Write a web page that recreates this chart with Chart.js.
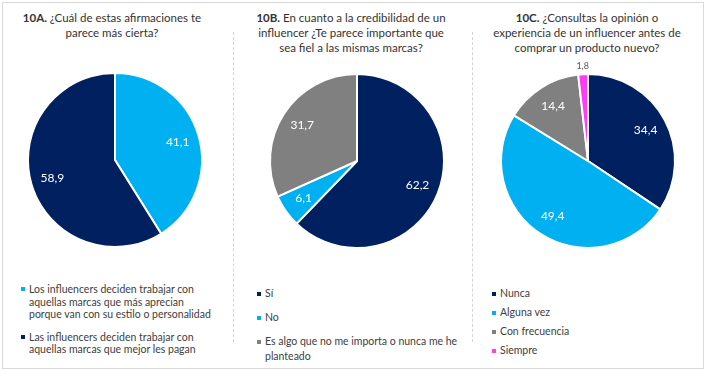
<!DOCTYPE html>
<html>
<head>
<meta charset="utf-8">
<script src="https://cdn.jsdelivr.net/npm/chart.js@4.4.1/dist/chart.umd.min.js"></script>
<style>
  body { margin: 0; background: #fff; font-family: Lato, "Open Sans", sans-serif; }
  #frame { position: absolute; left: 2px; top: 2px; width: 702px; height: 367px; box-sizing: border-box; border: 1px solid #d9d9d9; }
  .divider { position: absolute; top: 32px; height: 310px; border-left: 1px dashed #d4d4d4; }
  .title { position: absolute; top: 10px; width: 240px; margin-left: -120px; text-align: center; font-size: 11.5px; line-height: 15px; color: #333; }
  canvas { position: absolute; }
  .legend { position: absolute; font-size: 10.5px; color: #404040; }
  .legend .item { position: relative; }
  .legend .mark { position: absolute; width: 4px; height: 4px; }
</style>
</head>
<body>
<div id="frame"></div>
<div class="divider" style="left:233px"></div>
<div class="divider" style="left:472px"></div>

<div class="title" style="left:112px"><b>10A.</b> ¿Cuál de estas afirmaciones te<br>parece más cierta?</div>
<div class="title" style="left:351px"><b>10B.</b> En cuanto a la credibilidad de un<br>influencer ¿Te parece importante que<br>sea fiel a las mismas marcas?</div>
<div class="title" style="left:587px"><b>10C.</b> ¿Consultas la opinión o<br>experiencia de un influencer antes de<br>comprar un producto nuevo?</div>

<canvas id="pieA" width="200" height="200" style="left:15px;top:60px"></canvas>
<canvas id="pieB" width="200" height="200" style="left:257px;top:61px"></canvas>
<canvas id="pieC" width="200" height="200" style="left:488px;top:61px"></canvas>

<div class="legend" id="legA" style="left:29px;top:283px"></div>
<div class="legend" id="legB" style="left:265px;top:286px"></div>
<div class="legend" id="legC" style="left:500px;top:286px"></div>

<script>
const NAVY = '#002060';
const SKY = '#00b0f0';
const GREY = '#808080';
const PINK = '#ff3ef3';

// 10A
const labelsA = [
  ['Los influencers deciden trabajar con', 'aquellas marcas que más aprecian', 'porque van con su estilo o personalidad'],
  ['Las influencers deciden trabajar con', 'aquellas marcas que mejor les pagan']
];
const valuesA = [41.1, 58.9];
const colorsA = [SKY, NAVY];

// 10B
const labelsB = [['Sí'], ['No'], ['Es algo que no me importa o nunca me he', 'planteado']];
const valuesB = [62.2, 6.1, 31.7];
const colorsB = [NAVY, SKY, GREY];

// 10C
const labelsC = [['Nunca'], ['Alguna vez'], ['Con frecuencia'], ['Siempre']];
const valuesC = [34.4, 49.4, 14.4, 1.8];
const colorsC = [NAVY, SKY, GREY, PINK];

// value labels inside the slices, tiny slices get theirs outside
const sliceLabels = {
  id: 'sliceLabels',
  afterDatasetsDraw(chart) {
    const ctx = chart.ctx;
    const values = chart.data.datasets[0].data;
    chart.getDatasetMeta(0).data.forEach((arc, i) => {
      const p = arc.getProps(['x', 'y', 'startAngle', 'endAngle', 'outerRadius'], true);
      const mid = (p.startAngle + p.endAngle) / 2;
      const small = values[i] < 3;
      const d = small ? p.outerRadius + 8 : p.outerRadius * 0.75;
      ctx.save();
      ctx.font = small ? '9px Lato' : '12px Lato';
      ctx.fillStyle = small ? '#595959' : '#fff';
      ctx.textAlign = 'center';
      ctx.textBaseline = 'middle';
      ctx.fillText(String(values[i]).replace('.', ','), p.x + Math.cos(mid) * d, p.y + Math.sin(mid) * d);
      ctx.restore();
    });
  }
};

function makePie(id, labels, values, colors) {
  new Chart(document.getElementById(id), {
    type: 'pie',
    data: {
      labels: labels.map(l => l.join(' ')),
      datasets: [{
        data: values,
        backgroundColor: colors,
        borderColor: '#fff',
        borderWidth: 2,
        radius: 87
      }]
    },
    options: {
      responsive: false,
      animation: false,
      plugins: {
        legend: { display: false },
        tooltip: { enabled: false }
      }
    },
    plugins: [sliceLabels]
  });
}

function makeLegend(id, labels, colors, lineHeight, gap) {
  const box = document.getElementById(id);
  labels.forEach((lines, i) => {
    const item = document.createElement('div');
    item.className = 'item';
    item.style.lineHeight = lineHeight + 'px';
    item.style.marginBottom = gap + 'px';
    const mark = document.createElement('span');
    mark.className = 'mark';
    mark.style.background = colors[i];
    mark.style.left = '-8px';
    mark.style.top = (lineHeight / 2 - 2) + 'px';
    item.appendChild(mark);
    item.appendChild(document.createTextNode(lines[0]));
    lines.slice(1).forEach(t => {
      item.appendChild(document.createElement('br'));
      item.appendChild(document.createTextNode(t));
    });
    box.appendChild(item);
  });
}

makePie('pieA', labelsA, valuesA, colorsA);
makePie('pieB', labelsB, valuesB, colorsB);
makePie('pieC', labelsC, valuesC, colorsC);

makeLegend('legA', labelsA, colorsA, 12.5, 10);
makeLegend('legB', labelsB, colorsB, 15, 9);
makeLegend('legC', labelsC, colorsC, 15, 4);
</script>
</body>
</html>
